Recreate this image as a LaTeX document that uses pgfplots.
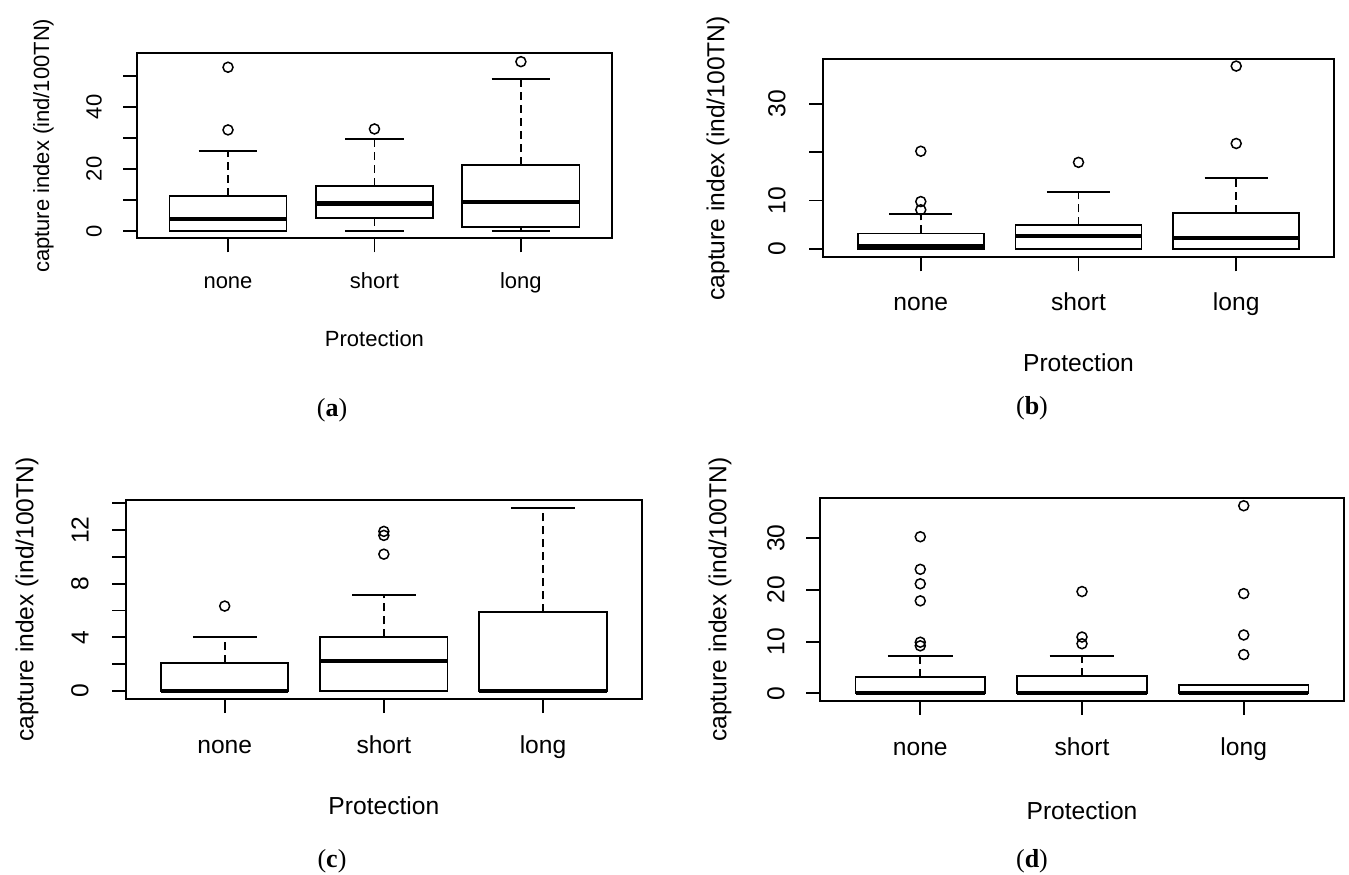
\documentclass[border=0pt]{standalone}
\usepackage{pgfplots}
\pgfplotsset{compat=1.18}
\usepgfplotslibrary{statistics}
\usepackage{fontspec}
\setmainfont{Liberation Sans}
\newfontfamily\capfont{Liberation Serif}

\pgfplotsset{
  rbox/.style={
    scale only axis,
    xmin=0.38, xmax=3.62,
    xtick={1,2,3}, xticklabels={none,short,long},
    xtick pos=bottom, ytick pos=left,
    tick align=outside, major tick length=7pt,
    axis line style={line width=0.9pt},
    major tick style={line width=0.9pt, black},
    xlabel={Protection},
    ylabel={capture index (ind/100TN)},
    boxplot/draw direction=y,
    boxplot/box extend=0.8,
    boxplot/every box/.style={line width=0.9pt},
    boxplot/every median/.style={line width=2.1pt},
    boxplot/draw/lower whisker/.code={
      \draw[line width=0.9pt, dash pattern=on 4pt off 2.5pt]
        (boxplot cs:\pgfplotsboxplotvalue{lower quartile}) --
        (boxplot cs:\pgfplotsboxplotvalue{lower whisker});
      \draw[line width=0.9pt]
        (boxplot box cs:\pgfplotsboxplotvalue{lower whisker},0.25) --
        (boxplot box cs:\pgfplotsboxplotvalue{lower whisker},0.75);
    },
    boxplot/draw/upper whisker/.code={
      \draw[line width=0.9pt, dash pattern=on 4pt off 2.5pt]
        (boxplot cs:\pgfplotsboxplotvalue{upper quartile}) --
        (boxplot cs:\pgfplotsboxplotvalue{upper whisker});
      \draw[line width=0.9pt]
        (boxplot box cs:\pgfplotsboxplotvalue{upper whisker},0.25) --
        (boxplot box cs:\pgfplotsboxplotvalue{upper whisker},0.75);
    },
  },
  % fs: font size, xt: tick label baseline, xl: xlabel baseline, yt: ytick label shift, yl: ylabel pos
  rlab/.style n args={5}{
    every tick label/.append style={font=\fontsize{#1}{#1}\selectfont},
    label style={font=\fontsize{#1}{#1}\selectfont},
    xticklabel style={anchor=base, inner sep=0pt, yshift=-#2},
    xlabel style={at={(axis description cs:0.5,0)}, anchor=base, yshift=-#3},
    yticklabel style={xshift=-#4, rotate=90, anchor=south, inner sep=0pt},
    ylabel style={at={(axis description cs:-#5,0.5)}, anchor=center},
  },
  outl/.style={black, mark=o, mark size=2.5pt, mark options={solid, line width=0.75pt}},
}

\begin{document}
\begin{tikzpicture}
\path[use as bounding box] (0,0) rectangle (674.5pt,437pt);

% (a)
\begin{axis}[rbox, rlab={11}{18pt}{54pt}{10.5pt}{0.1975},
  at={(68.6pt,317.85pt)}, anchor=south west,
  width=237.25pt, height=92.5pt,
  ymin=-2.35, ymax=57.3,
  ytick={0,10,20,30,40,50}, yticklabels={0,{},20,{},40,{}}]
\addplot[outl, boxplot prepared={draw position=1, lower whisker=0, lower quartile=0,
  median=3.76, upper quartile=11.3, upper whisker=25.9}]
  table[row sep=\\, y index=0] {y\\ 32.6\\ 52.8\\};
\addplot[outl, boxplot prepared={draw position=2, lower whisker=0, lower quartile=4.1,
  median=8.9, upper quartile=14.6, upper whisker=29.7}]
  table[row sep=\\, y index=0] {y\\ 32.9\\};
\addplot[outl, boxplot prepared={draw position=3, lower whisker=0, lower quartile=1.4,
  median=9.4, upper quartile=21.3, upper whisker=48.9}]
  table[row sep=\\, y index=0] {y\\ 54.6\\};
\end{axis}

% (b)
\begin{axis}[rbox, rlab={12.3}{19.5pt}{56.85pt}{11.5pt}{0.2055},
  at={(411.5pt,308.35pt)}, anchor=south west,
  width=255.5pt, height=99pt,
  ymin=-1.72, ymax=39.2,
  ytick={0,10,20,30}, yticklabels={0,10,{},30}]
\addplot[outl, boxplot prepared={draw position=1, lower whisker=0, lower quartile=0,
  median=0.5, upper quartile=3.2, upper whisker=7.15}]
  table[row sep=\\, y index=0] {y\\ 8.1\\ 9.8\\ 20.2\\};
\addplot[outl, boxplot prepared={draw position=2, lower whisker=0, lower quartile=0,
  median=2.6, upper quartile=4.9, upper whisker=11.7}]
  table[row sep=\\, y index=0] {y\\ 17.9\\};
\addplot[outl, boxplot prepared={draw position=3, lower whisker=0, lower quartile=0,
  median=2.2, upper quartile=7.5, upper whisker=14.7}]
  table[row sep=\\, y index=0] {y\\ 21.8\\ 37.8\\};
\end{axis}

% (c)
\begin{axis}[rbox, rlab={12.3}{20pt}{57.85pt}{11.5pt}{0.192},
  at={(63pt,87.5pt)}, anchor=south west,
  width=257.85pt, height=99.5pt,
  ymin=-0.6, ymax=14.24,
  ytick={0,2,4,6,8,10,12,14}, yticklabels={0,{},4,{},8,{},12,{}}]
\addplot[outl, boxplot prepared={draw position=1, lower whisker=0, lower quartile=0,
  median=0, upper quartile=2.1, upper whisker=4.0}]
  table[row sep=\\, y index=0] {y\\ 6.33\\};
\addplot[outl, boxplot prepared={draw position=2, lower whisker=0, lower quartile=0,
  median=2.24, upper quartile=4.0, upper whisker=7.16}]
  table[row sep=\\, y index=0] {y\\ 10.2\\ 11.6\\ 11.9\\};
\addplot[outl, boxplot prepared={draw position=3, lower whisker=0, lower quartile=0,
  median=0, upper quartile=5.86, upper whisker=13.66}]
  coordinates {};
\end{axis}

% (d)
\begin{axis}[rbox, rlab={12.3}{20.25pt}{59.15pt}{10.5pt}{0.191},
  at={(410pt,86.65pt)}, anchor=south west,
  width=262pt, height=101.2pt,
  ymin=-1.42, ymax=37.74,
  ytick={0,10,20,30}, yticklabels={0,10,20,30}]
\addplot[outl, boxplot prepared={draw position=1, lower whisker=0, lower quartile=0,
  median=0, upper quartile=3.16, upper whisker=7.16}]
  table[row sep=\\, y index=0] {y\\ 9.2\\ 9.9\\ 17.9\\ 21.2\\ 24.0\\ 30.3\\};
\addplot[outl, boxplot prepared={draw position=2, lower whisker=0, lower quartile=0,
  median=0, upper quartile=3.4, upper whisker=7.16}]
  table[row sep=\\, y index=0] {y\\ 9.6\\ 10.9\\ 19.7\\};
\addplot[outl, boxplot prepared={draw position=3, lower whisker=0, lower quartile=0,
  median=0, upper quartile=1.55, upper whisker=1.55}]
  table[row sep=\\, y index=0] {y\\ 7.5\\ 11.3\\ 19.3\\ 36.3\\};
\end{axis}

\node[font=\capfont\fontsize{13}{13}\selectfont] at (166pt,232pt) {(\textbf{a})};
\node[font=\capfont\fontsize{13}{13}\selectfont] at (516pt,233pt) {(\textbf{b})};
\node[font=\capfont\fontsize{13}{13}\selectfont] at (166pt,6.6pt) {(\textbf{c})};
\node[font=\capfont\fontsize{13}{13}\selectfont] at (516pt,6.6pt) {(\textbf{d})};
\end{tikzpicture}
\end{document}
